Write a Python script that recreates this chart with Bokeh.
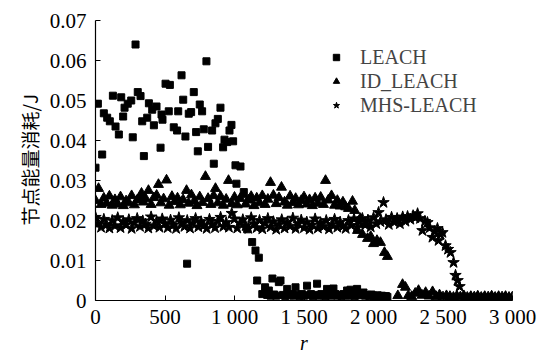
from bokeh.plotting import figure
from bokeh.models import Range1d, FixedTicker, Legend, LegendItem, ColumnDataSource
from bokeh.embed import file_html
from bokeh.resources import INLINE

X_TICKS = [0, 500, 1000, 1500, 2000, 2500, 3000]
X_LABELS = ["0", "500", "1 000", "1 500", "2 000", "2 500", "3 000"]
Y_TICKS = [0, 0.01, 0.02, 0.03, 0.04, 0.05, 0.06, 0.07]
Y_LABELS = ["0", "0.01", "0.02", "0.03", "0.04", "0.05", "0.06", "0.07"]

SERIES_NAMES = ["LEACH", "ID_LEACH", "MHS-LEACH"]

LEACH = [(0,0.0332),(17,0.0492),(48,0.0365),(60,0.0468),(84,0.0457),(103,0.0448),(125,0.0512),(144,0.0435),
         (168,0.0415),(185,0.0508),(199,0.0460),(209,0.0482),(232,0.0492),(257,0.0500),(268,0.0408),(288,0.0640),
         (304,0.0521),(324,0.0511),(336,0.0448),(348,0.0361),(372,0.0457),(384,0.0493),(408,0.0477),(420,0.0438),
         (439,0.0485),(468,0.0382),(475,0.0465),(482,0.0452),(504,0.0542),(527,0.0473),(535,0.0539),(563,0.0433),
         (587,0.0425),(595,0.0473),(619,0.0563),(631,0.0502),(647,0.0410),(659,0.0092),(671,0.0467),(688,0.0471),
         (707,0.0521),(724,0.0421),(736,0.0373),(750,0.0490),(767,0.0473),(779,0.0428),(798,0.0598),(810,0.0384),
         (839,0.0425),(851,0.0342),(863,0.0443),(880,0.0454),(899,0.0482),(918,0.0383),(928,0.0402),(947,0.0396),
         (964,0.0425),(978,0.0439),(990,0.0398),(1007,0.0338),(1014,0.0292),(1043,0.0335),(1067,0.0271),(1091,0.0178),
         (1127,0.0146),(1151,0.0125),(1163,0.0050),(1175,0.0107),(1200,0.0016),(1220,0.0033),(1235,0.0014),(1247,0.0025),
         (1260,0.0012),(1273,0.0055),(1285,0.0015),(1300,0.0012),(1319,0.0046),(1331,0.0050),(1350,0.0014),(1365,0.0011),
         (1379,0.0029),(1400,0.0013),(1415,0.0016),(1425,0.0012),(1439,0.0033),(1455,0.0014),(1470,0.0011),(1485,0.0016),
         (1500,0.0012),(1522,0.0037),(1535,0.0013),(1550,0.0016),(1565,0.0011),(1580,0.0014),(1594,0.0042),(1610,0.0012),
         (1625,0.0016),(1640,0.0013),(1655,0.0011),(1666,0.0029),(1680,0.0015),(1695,0.0012),(1712,0.0030),(1726,0.0016),
         (1740,0.0012),(1755,0.0014),(1770,0.0011),(1785,0.0016),(1800,0.0013),(1810,0.0025),(1822,0.0012),(1835,0.0027),
         (1850,0.0014),(1865,0.0011),(1882,0.0029),(1895,0.0013),(1910,0.0015),(1928,0.0020),(1940,0.0012),(1955,0.0014),
         (1970,0.0011),(1985,0.0015),(2000,0.0012),(2015,0.0010),(2030,0.0013),(2045,0.0011),(2060,0.0012),(2075,0.0010),
         (2090,0.0011),(2100,0.0009)]

ID_LEACH = [(0,0.0250),(22,0.0280),(40,0.0240),(60,0.0256),(80,0.0243),(100,0.0261),(120,0.0238),(140,0.0252),
            (160,0.0241),(180,0.0259),(200,0.0237),(220,0.0249),(240,0.0244),(260,0.0262),(280,0.0239),(300,0.0251),
            (320,0.0258),(331,0.0268),(345,0.0246),(360,0.0255),(381,0.0275),(400,0.0240),(420,0.0257),(440,0.0263),
            (453,0.0290),(470,0.0244),(490,0.0254),(511,0.0301),(530,0.0238),(550,0.0260),(570,0.0247),(590,0.0256),
            (610,0.0239),(630,0.0252),(655,0.0275),(670,0.0243),(690,0.0264),(710,0.0248),(730,0.0237),(750,0.0259),
            (770,0.0245),(791,0.0310),(810,0.0255),(830,0.0240),(850,0.0262),(863,0.0280),(880,0.0244),(900,0.0260),
            (920,0.0238),(940,0.0253),(957,0.0300),(980,0.0242),(1000,0.0258),(1020,0.0239),(1040,0.0255),(1060,0.0264),
            (1080,0.0241),(1100,0.0251),(1120,0.0260),(1140,0.0237),(1160,0.0256),(1180,0.0244),(1200,0.0262),(1220,0.0240),
            (1240,0.0253),(1259,0.0295),(1280,0.0263),(1300,0.0242),(1320,0.0257),(1338,0.0283),(1360,0.0246),(1380,0.0238),
            (1400,0.0261),(1420,0.0245),(1440,0.0255),(1460,0.0239),(1480,0.0250),(1500,0.0259),(1520,0.0241),(1540,0.0252),
            (1560,0.0237),(1580,0.0256),(1600,0.0243),(1620,0.0258),(1640,0.0240),(1655,0.0300),(1675,0.0251),(1698,0.0262),
            (1720,0.0238),(1740,0.0250),(1760,0.0236),(1780,0.0246),(1800,0.0234),(1820,0.0230),(1849,0.0248),(1865,0.0225),
            (1885,0.0175),(1905,0.0205),(1921,0.0165),(1940,0.0190),(1957,0.0155),(1980,0.0160),(2000,0.0142),(2025,0.0150),
            (2050,0.0145),(2079,0.0120),(2100,0.0110),(2175,0.0012),(2209,0.0040),(2230,0.0033),(2250,0.0012),(2275,0.0010),
            (2300,0.0018),(2324,0.0025),(2350,0.0013),(2375,0.0020),(2400,0.0011),(2425,0.0022),(2450,0.0010),(2475,0.0014),
            (2500,0.0009),(2525,0.0012),(2550,0.0010),(2575,0.0008),(2600,0.0011),(2625,0.0009),(2650,0.0012),(2675,0.0008),
            (2700,0.0010),(2725,0.0009),(2750,0.0011),(2775,0.0008),(2800,0.0010),(2825,0.0009),(2850,0.0011),(2875,0.0008),
            (2900,0.0010),(2925,0.0009),(2950,0.0010),(2975,0.0008),(3000,0.0009)]

MHS_LEACH = [(0,0.0208),(20,0.0193),(40,0.0183),(60,0.0203),(80,0.0190),(100,0.0181),(120,0.0200),(140,0.0187),
             (160,0.0207),(180,0.0182),(200,0.0197),(220,0.0189),(240,0.0202),(260,0.0180),(280,0.0194),(300,0.0205),
             (320,0.0185),(340,0.0199),(360,0.0191),(380,0.0181),(400,0.0209),(420,0.0187),(440,0.0198),(460,0.0183),
             (480,0.0204),(500,0.0192),(520,0.0182),(540,0.0201),(560,0.0189),(580,0.0180),(600,0.0207),(620,0.0195),
             (640,0.0185),(660,0.0200),(680,0.0181),(700,0.0193),(720,0.0205),(740,0.0184),(760,0.0197),(780,0.0188),
             (800,0.0180),(820,0.0203),(840,0.0191),(860,0.0182),(880,0.0198),(900,0.0208),(920,0.0185),(940,0.0195),
             (960,0.0183),(980,0.0218),(1000,0.0204),(1020,0.0181),(1040,0.0193),(1060,0.0202),(1080,0.0187),(1100,0.0180),
             (1120,0.0207),(1140,0.0192),(1160,0.0182),(1180,0.0200),(1200,0.0179),(1220,0.0193),(1240,0.0205),(1260,0.0184),
             (1280,0.0197),(1300,0.0178),(1320,0.0190),(1340,0.0202),(1360,0.0181),(1380,0.0196),(1400,0.0186),(1420,0.0206),
             (1440,0.0180),(1460,0.0192),(1480,0.0201),(1500,0.0182),(1520,0.0196),(1540,0.0178),(1560,0.0189),(1580,0.0204),
             (1600,0.0181),(1620,0.0194),(1640,0.0185),(1660,0.0200),(1680,0.0179),(1700,0.0190),(1720,0.0203),(1740,0.0183),
             (1760,0.0196),(1780,0.0186),(1800,0.0180),(1820,0.0200),(1840,0.0188),(1860,0.0204),(1880,0.0183),(1900,0.0196),
             (1920,0.0205),(1940,0.0189),(1960,0.0201),(1980,0.0184),(2000,0.0207),(2020,0.0192),(2036,0.0220),(2050,0.0197),
             (2072,0.0245),(2090,0.0202),(2110,0.0190),(2130,0.0208),(2150,0.0196),(2170,0.0205),(2190,0.0192),(2210,0.0209),
             (2230,0.0198),(2245,0.0210),(2265,0.0203),(2285,0.0212),(2300,0.0207),(2317,0.0217),(2335,0.0205),(2352,0.0175),
             (2370,0.0198),(2388,0.0195),(2405,0.0182),(2424,0.0158),(2440,0.0172),(2460,0.0180),(2468,0.0150),(2482,0.0165),
             (2496,0.0170),(2518,0.0137),(2536,0.0128),(2554,0.0120),(2576,0.0095),(2590,0.0063),(2605,0.0050),(2619,0.0035),
             (2650,0.0009),(2700,0.0008),(2750,0.0009),(2800,0.0008),(2850,0.0009),(2900,0.0008),(2950,0.0009),(3000,0.0008)]


def src(pairs):
    return ColumnDataSource(data=dict(x=[a for a, _ in pairs], y=[b for _, b in pairs]))


SERIF = "Liberation Serif"

p = figure(width=538, height=356, x_range=Range1d(0, 3000), y_range=Range1d(0, 0.07),
           output_backend="svg", toolbar_location=None,
           min_border_left=95, min_border_right=26, min_border_top=20, min_border_bottom=56)
p.xgrid.visible = False
p.ygrid.visible = False
p.outline_line_color = None
p.background_fill_color = "white"
p.border_fill_color = "white"

r2 = p.scatter("x", "y", source=src(ID_LEACH), marker="triangle", size=10, color="black")
r3 = p.scatter("x", "y", source=src(MHS_LEACH), marker="star", size=12, color="black")
r1 = p.scatter("x", "y", source=src(LEACH), marker="square", size=7, color="black")

legend = Legend(items=[LegendItem(label=SERIES_NAMES[0], renderers=[r1]),
                       LegendItem(label=SERIES_NAMES[1], renderers=[r2]),
                       LegendItem(label=SERIES_NAMES[2], renderers=[r3])],
                location=(233, 183))
legend.label_text_font = SERIF
legend.label_text_font_size = "20px"
legend.glyph_width = 16
legend.glyph_height = 24
legend.label_height = 24
legend.spacing = 0
legend.padding = 5
legend.margin = 0
legend.label_standoff = 16
legend.background_fill_alpha = 0
legend.border_line_color = None
p.add_layout(legend)

xa = p.xaxis[0]
xa.ticker = FixedTicker(ticks=X_TICKS)
xa.major_label_overrides = dict(zip(X_TICKS, X_LABELS))
xa.axis_label = "r"
xa.axis_label_text_font = SERIF
xa.axis_label_text_font_style = "italic"
xa.axis_label_text_font_size = "20px"
xa.axis_label_standoff = 0
xa.major_label_text_font = SERIF
xa.major_label_text_font_size = "21px"
xa.major_label_standoff = 4

ya = p.yaxis[0]
ya.ticker = FixedTicker(ticks=Y_TICKS)
ya.major_label_overrides = dict(zip(Y_TICKS, Y_LABELS))
ya.axis_label = "节点能量消耗/J"
ya.axis_label_text_font = "Noto Sans CJK SC"
ya.axis_label_text_font_style = "normal"
ya.axis_label_text_font_size = "19px"
ya.axis_label_standoff = 4
ya.major_label_text_font = SERIF
ya.major_label_text_font_size = "21px"
ya.major_label_standoff = 9

for ax in (xa, ya):
    ax.axis_line_color = "black"
    ax.axis_line_width = 1.2
    ax.major_tick_in = 5
    ax.major_tick_out = 0
    ax.major_tick_line_color = "black"
    ax.minor_tick_in = 0
    ax.minor_tick_out = 0
    ax.major_label_text_color = "black"
    ax.axis_label_text_color = "black"

open("out.html", "w").write(file_html(p, INLINE))
